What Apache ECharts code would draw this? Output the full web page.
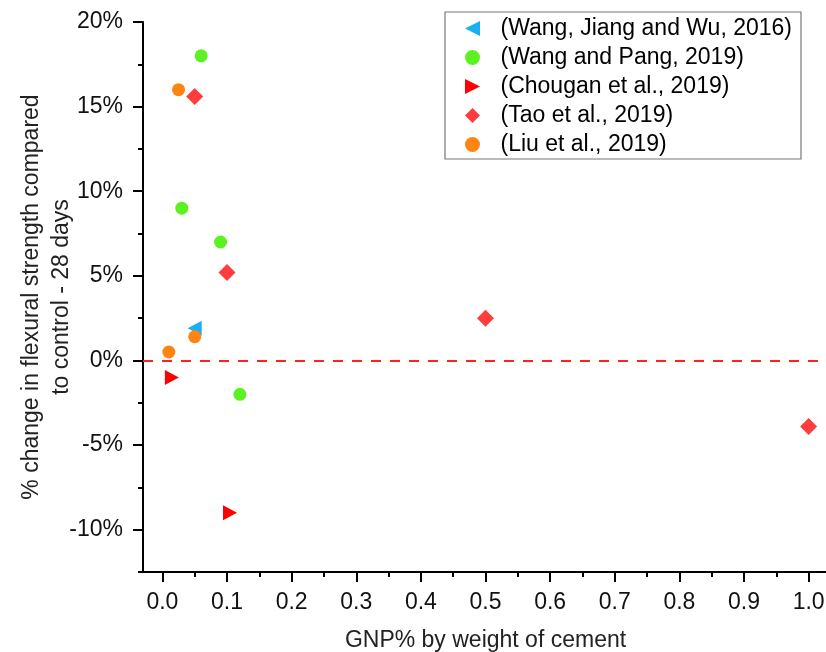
<!DOCTYPE html>
<html>
<head>
<meta charset="utf-8">
<script src="https://cdn.jsdelivr.net/npm/echarts@6/dist/echarts.min.js"></script>
<style>
html,body{margin:0;padding:0;background:#fff;}
#chart{width:826px;height:652px;}
</style>
</head>
<body>
<div id="chart"></div>
<script>
// ---- data ----
var seriesNames = ['(Wang, Jiang and Wu, 2016)', '(Wang and Pang, 2019)', '(Chougan et al., 2019)', '(Tao et al., 2019)', '(Liu et al., 2019)'];
var wangJiangWu = [[0.05, 1.9]];
var wangPang = [[0.06, 18.0], [0.03, 9.0], [0.09, 7.0], [0.12, -2.0]];
var chougan = [[0.01, -1.0], [0.10, -9.0]];
var tao = [[0.05, 15.6], [0.10, 5.2], [0.50, 2.5], [1.00, -3.9]];
var liu = [[0.025, 16.0], [0.01, 0.5], [0.05, 1.4]];
var xTicks = [0, 0.1, 0.2, 0.3, 0.4, 0.5, 0.6, 0.7, 0.8, 0.9, 1.0];
var xMinorTicks = [0.05, 0.15, 0.25, 0.35, 0.45, 0.55, 0.65, 0.75, 0.85, 0.95];
var yTicks = [-10, -5, 0, 5, 10, 15, 20];
var yMinorTicks = [-12.5, -7.5, -2.5, 2.5, 7.5, 12.5, 17.5];
var referenceLine = 0;

var FONT = 'Liberation Sans, Arial, sans-serif';
var chart = echarts.init(document.getElementById('chart'));
var axisStyle = {color: '#000', width: 2};
chart.setOption({
  animation: false,
  backgroundColor: '#fff',
  textStyle: {fontFamily: FONT},
  grid: {left: 143, top: 22, width: 685, height: 550, containLabel: false, outerBoundsMode: 'none'},
  legend: {
    orient: 'vertical', left: 445, top: 12,
    padding: [5, 9, 3, 20], itemGap: 6, itemWidth: 36, itemHeight: 15,
    borderColor: '#777', borderWidth: 1.2, borderRadius: 0,
    textStyle: {fontSize: 23, color: '#000', fontFamily: FONT, padding: [0, 0, 0, 5]},
    data: seriesNames
  },
  xAxis: [{
    type: 'value', min: -0.03, max: 1.03,
    name: 'GNP% by weight of cement', nameLocation: 'middle', nameGap: 57, nameMoveOverlap: false,
    nameTextStyle: {fontSize: 23, color: '#222', fontFamily: FONT},
    axisLine: {show: true, onZero: false, lineStyle: axisStyle},
    axisTick: {show: true, length: 10, inside: false, lineStyle: axisStyle, customValues: xTicks},
    axisLabel: {show: true, fontSize: 23, color: '#111', margin: 19, customValues: xTicks,
      formatter: function (v) { return v.toFixed(1); }},
    splitLine: {show: false}
  }, {
    type: 'value', min: -0.03, max: 1.03, position: 'bottom',
    axisLine: {show: false, onZero: false},
    axisTick: {show: true, length: 5, lineStyle: axisStyle, customValues: xMinorTicks},
    axisLabel: {show: false},
    splitLine: {show: false}
  }],
  yAxis: [{
    type: 'value', min: -12.5, max: 20,
    name: '% change in flexural strength compared\nto control - 28 days',
    nameLocation: 'middle', nameGap: 66, nameRotate: 90, nameMoveOverlap: false,
    nameTextStyle: {fontSize: 23, color: '#222', lineHeight: 30, fontFamily: FONT},
    axisLine: {show: true, onZero: false, lineStyle: axisStyle},
    axisTick: {show: true, length: 10, lineStyle: axisStyle, customValues: yTicks},
    axisLabel: {show: true, fontSize: 23, color: '#111', margin: 20, customValues: yTicks,
      formatter: function (v) { return v + '%'; }},
    splitLine: {show: false}
  }, {
    type: 'value', min: -12.5, max: 20, position: 'left',
    axisLine: {show: false, onZero: false},
    axisTick: {show: true, length: 5, lineStyle: axisStyle, customValues: yMinorTicks},
    axisLabel: {show: false},
    splitLine: {show: false}
  }],
  series: [{
    name: seriesNames[0], type: 'scatter', data: wangJiangWu,
    symbol: 'path://M0,5 L10,0 L10,10 Z', symbolSize: [14, 15],
    itemStyle: {color: '#1AB0F0', opacity: 1},
    markLine: {
      silent: true, symbol: 'none', label: {show: false},
      lineStyle: {color: '#FF2020', width: 2, type: [10, 9], opacity: 1},
      data: [{yAxis: referenceLine}]
    }
  }, {
    name: seriesNames[1], type: 'scatter', data: wangPang,
    symbol: 'circle', symbolSize: 13, itemStyle: {color: '#5CF222', opacity: 1}
  }, {
    name: seriesNames[2], type: 'scatter', data: chougan,
    symbol: 'path://M0,0 L10,5 L0,10 Z', symbolSize: [14, 15], symbolOffset: [3, 0],
    itemStyle: {color: '#FF0000', opacity: 1}
  }, {
    name: seriesNames[3], type: 'scatter', data: tao,
    symbol: 'path://M5,0 L10,5 L5,10 L0,5 Z', symbolSize: [17, 17],
    itemStyle: {color: '#FF3D3D', opacity: 1}
  }, {
    name: seriesNames[4], type: 'scatter', data: liu,
    symbol: 'circle', symbolSize: 13, itemStyle: {color: '#FF8410', opacity: 1}
  }]
});
</script>
</body>
</html>
